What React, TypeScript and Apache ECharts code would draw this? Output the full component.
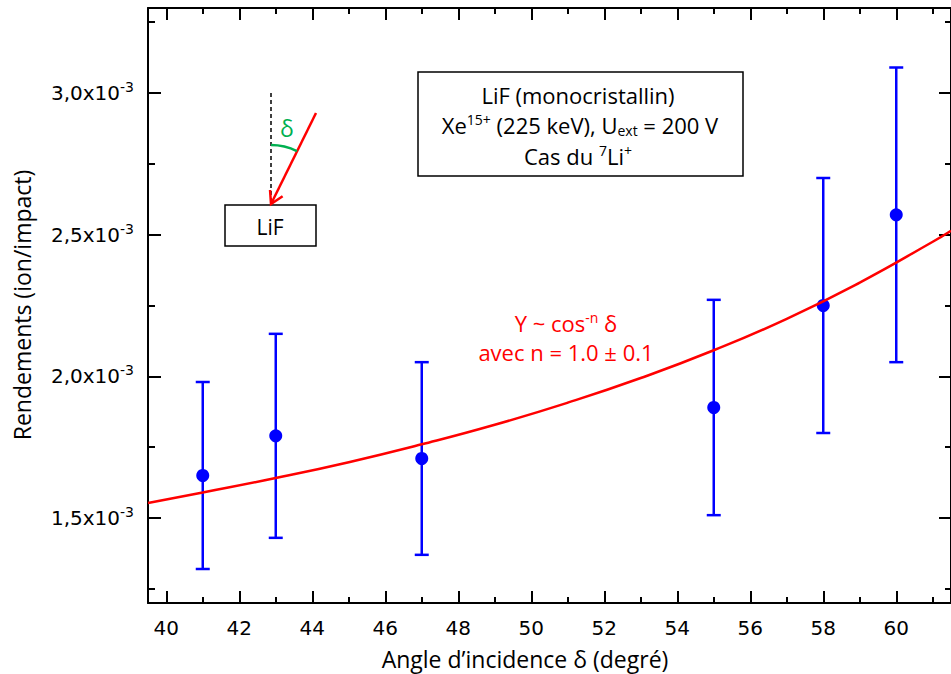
import React, { useEffect, useRef } from "react";
import * as echarts from "echarts";

// Measured data (angle in degrees, yield in ion/impact)
const angles = [41, 43, 47, 55, 58, 60];
const yields = [1.65e-3, 1.79e-3, 1.71e-3, 1.89e-3, 2.25e-3, 2.57e-3];
const yieldErrors = [0.33e-3, 0.36e-3, 0.34e-3, 0.38e-3, 0.45e-3, 0.52e-3];

// Fit curve Y ~ cos^-n(δ)
const fitAngles = [39.5, 41, 43, 45, 47, 49, 51, 53, 55, 57, 59, 61, 61.5];
const fitYields = [1.553e-3, 1.59e-3, 1.641e-3, 1.697e-3, 1.76e-3, 1.829e-3, 1.907e-3, 1.994e-3, 2.092e-3, 2.203e-3, 2.331e-3, 2.475e-3, 2.514e-3];

// Axis ticks
const xMajorTicks = [40, 42, 44, 46, 48, 50, 52, 54, 56, 58, 60];
const xMinorTicks = [41, 43, 45, 47, 49, 51, 53, 55, 57, 59, 61];
const yMajorTicks = [1.5e-3, 2.0e-3, 2.5e-3, 3.0e-3];
const yMinorTicks = [1.25e-3, 1.75e-3, 2.25e-3, 2.75e-3, 3.25e-3];

const X_MIN = 39.5;
const X_MAX = 61.5;
const Y_MIN = 1.2e-3;
const Y_MAX = 3.3e-3;

const TEXT_FONT = "'Open Sans', 'Noto Sans', sans-serif";
const TICK_FONT = "'DejaVu Sans', sans-serif";

export default function App() {
  const ref = useRef<HTMLDivElement>(null);

  useEffect(() => {
    if (!ref.current) return;
    const chart = echarts.init(ref.current, undefined, { renderer: "svg" });

    const axisLine = { show: true, lineStyle: { color: "#000", width: 2 } };
    const mkX = (pos: string, ticks: number[], len: number, labels: boolean, line: boolean) => ({
      type: "value",
      position: pos,
      min: X_MIN,
      max: X_MAX,
      axisLine: line ? axisLine : { show: false },
      axisTick: { show: true, inside: true, length: len, customValues: ticks, lineStyle: { color: "#000", width: 2 } },
      axisLabel: labels
        ? { show: true, customValues: ticks, margin: 15, fontSize: 20, fontFamily: TICK_FONT, color: "#000" }
        : { show: false },
      splitLine: { show: false },
    });
    const yFmt = (v: number) => {
      const s = (v * 1000).toFixed(1).replace(".", ",");
      return `{a|${s}x10}{s|-3}`;
    };
    const mkY = (pos: string, ticks: number[], len: number, labels: boolean, line: boolean) => ({
      type: "value",
      position: pos,
      min: Y_MIN,
      max: Y_MAX,
      axisLine: line ? axisLine : { show: false },
      axisTick: { show: true, inside: true, length: len, customValues: ticks, lineStyle: { color: "#000", width: 2 } },
      axisLabel: labels
        ? {
            show: true,
            customValues: ticks,
            margin: 14,
            formatter: yFmt,
            rich: {
              a: { fontSize: 20, fontFamily: TICK_FONT, color: "#000", lineHeight: 26, verticalAlign: "middle" },
              s: { fontSize: 14, fontFamily: TICK_FONT, color: "#000", lineHeight: 14, verticalAlign: "top" },
            },
          }
        : { show: false },
      splitLine: { show: false },
    });

    const errData = angles.map((a, i) => [a, yields[i] - yieldErrors[i], yields[i] + yieldErrors[i]]);
    const pts = angles.map((a, i) => [a, yields[i]]);
    const fit = fitAngles.map((a, i) => [a, fitYields[i]]);

    const green = "#00b050";
    const tipX = 271, tipY = 204;
    const dirX = 0.44, dirY = -0.898;
    const rot = (dx: number, dy: number, ang: number) => [
      dx * Math.cos(ang) - dy * Math.sin(ang),
      dx * Math.sin(ang) + dy * Math.cos(ang),
    ];
    const w1 = rot(dirX, dirY, Math.PI / 6);
    const w2 = rot(dirX, dirY, -Math.PI / 6);
    const wl = 14;

    const base = { fontSize: 22, fontFamily: TEXT_FONT, fill: "#000", lineHeight: 25, verticalAlign: "middle" };
    const sup = { fontSize: 14, fontFamily: TEXT_FONT, fill: "#000", lineHeight: 13, verticalAlign: "top" };
    const sub = { fontSize: 14, fontFamily: TEXT_FONT, fill: "#000", lineHeight: 13, verticalAlign: "bottom" };
    const redBase = { ...base, fill: "#ff0000" };
    const redSup = { ...sup, fill: "#ff0000" };

    chart.setOption({
      animation: false,
      backgroundColor: "#fff",
      grid: { left: 148, top: 8, width: 808, height: 595, containLabel: false },
      xAxis: [
        mkX("bottom", xMajorTicks, 12, true, true),
        mkX("bottom", xMinorTicks, 6, false, false),
        mkX("top", xMajorTicks, 12, false, true),
        mkX("top", xMinorTicks, 6, false, false),
      ],
      yAxis: [
        mkY("left", yMajorTicks, 13, true, true),
        mkY("left", yMinorTicks, 7, false, false),
        mkY("right", yMajorTicks, 12, false, true),
        mkY("right", yMinorTicks, 6, false, false),
      ],
      series: [
        {
          type: "custom",
          xAxisIndex: 0,
          yAxisIndex: 0,
          data: errData,
          z: 2,
          renderItem: (params: any, api: any) => {
            const x = api.value(0);
            const lo = api.coord([x, api.value(1)]);
            const hi = api.coord([x, api.value(2)]);
            const hw = 7;
            const style = { stroke: "#0000ff", lineWidth: 2.5 };
            return {
              type: "group",
              children: [
                { type: "line", shape: { x1: hi[0], y1: hi[1], x2: lo[0], y2: lo[1] }, style },
                { type: "line", shape: { x1: hi[0] - hw, y1: hi[1], x2: hi[0] + hw, y2: hi[1] }, style },
                { type: "line", shape: { x1: lo[0] - hw, y1: lo[1], x2: lo[0] + hw, y2: lo[1] }, style },
              ],
            };
          },
        },
        {
          type: "scatter",
          xAxisIndex: 0,
          yAxisIndex: 0,
          data: pts,
          symbol: "circle",
          symbolSize: 13,
          itemStyle: { color: "#0000ff", opacity: 1 },
          z: 3,
        },
        {
          type: "line",
          xAxisIndex: 0,
          yAxisIndex: 0,
          data: fit,
          smooth: true,
          showSymbol: false,
          lineStyle: { color: "#ff0000", width: 2.5 },
          z: 4,
        },
      ],
      graphic: [
        // axis names
        {
          type: "text",
          x: 22,
          y: 305,
          rotation: Math.PI / 2,
          style: { text: "Rendements (ion/impact)", font: `23px ${TEXT_FONT}`, fill: "#000", align: "center", verticalAlign: "middle" },
        },
        {
          type: "text",
          x: 525,
          y: 659,
          style: { text: "Angle d\u2019incidence \u03b4 (degr\u00e9)", font: `23px ${TEXT_FONT}`, fill: "#000", align: "center", verticalAlign: "middle" },
        },
        // info box
        {
          type: "rect",
          shape: { x: 418, y: 72, width: 325, height: 104 },
          style: { fill: "#fff", stroke: "#000", lineWidth: 1.5 },
        },
        {
          type: "text",
          x: 578,
          y: 95,
          style: { text: "LiF (monocristallin)", font: `22px ${TEXT_FONT}`, fill: "#000", align: "center", verticalAlign: "middle" },
        },
        {
          type: "text",
          x: 580,
          y: 125,
          style: {
            text: "{a|Xe}{s|15+}{a| (225 keV), U}{b|ext}{a| = 200 V}",
            rich: { a: base, s: sup, b: sub },
            align: "center",
            verticalAlign: "middle",
          },
        },
        {
          type: "text",
          x: 578,
          y: 156,
          style: {
            text: "{a|Cas du }{s|7}{a|Li}{s|+}",
            rich: { a: base, s: sup },
            align: "center",
            verticalAlign: "middle",
          },
        },
        // LiF target box
        {
          type: "rect",
          shape: { x: 225, y: 205, width: 91, height: 41 },
          style: { fill: "#fff", stroke: "#000", lineWidth: 1.5 },
        },
        {
          type: "text",
          x: 270,
          y: 227,
          style: { text: "LiF", font: `21px ${TEXT_FONT}`, fill: "#000", align: "center", verticalAlign: "middle" },
        },
        // dashed normal
        {
          type: "line",
          shape: { x1: 271, y1: 93, x2: 271, y2: 202 },
          style: { stroke: "#000", lineWidth: 1.5, lineDash: [4, 3] },
        },
        // incident ion arrow
        {
          type: "line",
          shape: { x1: 316, y1: 113, x2: tipX, y2: tipY },
          style: { stroke: "#ff0000", lineWidth: 2.5 },
        },
        {
          type: "polyline",
          shape: {
            points: [
              [tipX + w1[0] * wl, tipY + w1[1] * wl],
              [tipX, tipY],
              [tipX + w2[0] * wl, tipY + w2[1] * wl],
            ],
          },
          style: { stroke: "#ff0000", lineWidth: 2.5, fill: "none" },
        },
        // angle arc and label
        {
          type: "arc",
          shape: { cx: tipX, cy: tipY, r: 59, startAngle: -Math.PI / 2, endAngle: Math.atan2(dirY, dirX), clockwise: true },
          style: { stroke: green, lineWidth: 2.5, fill: "none" },
        },
        {
          type: "text",
          x: 287,
          y: 128,
          style: { text: "\u03b4", font: `23px ${TEXT_FONT}`, fill: green, align: "center", verticalAlign: "middle" },
        },
        // fit annotation
        {
          type: "text",
          x: 566,
          y: 323,
          style: {
            text: "{a|Y ~ cos}{s|-n}{a| \u03b4}",
            rich: { a: redBase, s: redSup },
            align: "center",
            verticalAlign: "middle",
          },
        },
        {
          type: "text",
          x: 566,
          y: 352,
          style: { text: "avec n = 1.0 \u00b1 0.1", font: `22px ${TEXT_FONT}`, fill: "#ff0000", align: "center", verticalAlign: "middle" },
        },
      ],
    });

    return () => chart.dispose();
  }, []);

  return <div ref={ref} style={{ position: "fixed", left: 0, top: 0, width: 951, height: 674 }} />;
}
